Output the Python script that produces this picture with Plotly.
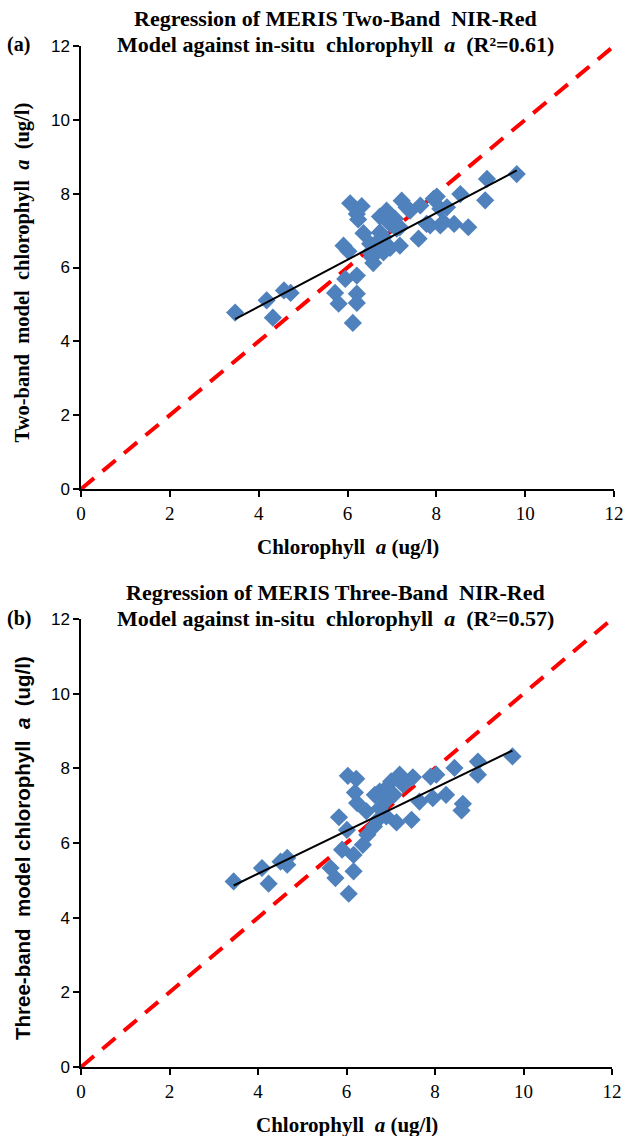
import numpy as np
import plotly.graph_objects as go

# ---------------- data ----------------
insitu_a = [3.47, 4.18, 4.32, 4.57, 4.72, 5.72, 5.80, 6.12, 6.21, 6.21, 5.95, 6.21, 5.91, 6.02,
            6.06, 6.32, 6.21, 6.24, 6.36, 6.51, 6.51, 6.55, 6.58, 6.66, 6.73, 6.73, 6.81, 6.81,
            6.88, 6.96, 6.96, 7.07, 7.11, 7.18, 7.18, 7.22, 7.33, 7.41, 7.60, 7.64, 7.78, 7.86,
            7.94, 8.01, 8.09, 8.09, 8.16, 8.24, 8.40, 8.54, 8.72, 9.10, 9.14, 9.81]
model_a = [4.78, 5.11, 4.64, 5.38, 5.31, 5.31, 5.02, 4.50, 5.29, 5.04, 5.69, 5.78, 6.59, 6.44,
           7.74, 7.66, 7.45, 7.30, 6.93, 6.64, 6.41, 6.28, 6.12, 6.68, 7.38, 6.95, 6.82, 6.41,
           7.54, 7.18, 6.53, 7.32, 7.05, 7.09, 6.59, 7.81, 7.63, 7.54, 6.78, 7.68, 7.18, 7.14,
           7.86, 7.92, 7.59, 7.14, 7.23, 7.63, 7.18, 7.99, 7.09, 7.82, 8.40, 8.53]

insitu_b = [3.45, 4.09, 4.24, 4.51, 4.66, 4.66, 5.64, 5.75, 6.05, 6.16, 6.16, 5.90, 6.01, 5.83,
            6.24, 6.03, 6.22, 6.19, 6.37, 6.45, 6.47, 6.62, 6.71, 6.64, 6.75, 6.75, 6.90, 6.92,
            6.90, 7.01, 7.07, 7.20, 7.28, 7.13, 7.47, 7.50, 7.65, 7.90, 7.95, 8.03, 8.25, 8.44,
            8.63, 8.60, 8.97, 8.97, 9.75]
model_b = [4.97, 5.33, 4.91, 5.50, 5.60, 5.42, 5.33, 5.06, 4.64, 5.68, 5.24, 5.82, 6.35, 6.69,
           7.07, 7.80, 7.72, 7.35, 5.95, 6.85, 6.22, 6.44, 6.62, 7.29, 7.38, 6.94, 7.47, 7.16,
           6.71, 7.65, 7.29, 7.83, 7.56, 6.55, 6.62, 7.76, 7.11, 7.78, 7.20, 7.83, 7.29, 8.01,
           7.05, 6.87, 8.18, 7.83, 8.32]

one_to_one = [0, 12]
tick_vals = [0, 2, 4, 6, 8, 10, 12]
tick_text = ["0", "2", "4", "6", "8", "10", "12"]

title_lines = [
    ["Regression of MERIS Two-Band  NIR-Red",
     "Model against in-situ  chlorophyll  <i>a</i>  (R²=0.61)"],
    ["Regression of MERIS Three-Band  NIR-Red",
     "Model against in-situ  chlorophyll  <i>a</i>  (R²=0.57)"],
]
panel_labels = ["(a)", "(b)"]
y_titles = ["Two-band  model  chlorophyll  <i>a</i>  (ug/l)",
            "Three-band  model chlorophyll  <i>a</i>  (ug/l)"]
x_title = "Chlorophyll  <i>a</i> (ug/l)"

# ---------------- layout geometry ----------------
W, H = 632, 1136
SERIF = "Liberation Serif, Times New Roman, serif"
SANS = "Liberation Sans, Arial, sans-serif"
BLUE = "#4F81BD"

panels = [
    dict(xs=insitu_a, ys=model_a, left=81, right=614, top=46, bottom=489, ax="", yfont=SERIF),
    dict(xs=insitu_b, ys=model_b, left=81, right=612, top=619, bottom=1067, ax="2", yfont=SANS),
]

fig = go.Figure()
layout = dict(width=W, height=H, margin=dict(l=0, r=0, t=0, b=0, autoexpand=False),
              paper_bgcolor="white", plot_bgcolor="white", showlegend=False,
              annotations=[])

def px(v):
    return v / W

def py(v):
    return 1 - v / H

for i, p in enumerate(panels):
    xa = "x" + p["ax"]
    ya = "y" + p["ax"]
    # 1:1 line
    fig.add_trace(go.Scatter(x=one_to_one, y=one_to_one, mode="lines", xaxis=xa, yaxis=ya,
                             line=dict(color="#FF0000", width=4, dash="17px,11px"),
                             hoverinfo="skip", cliponaxis=False))
    # scatter
    fig.add_trace(go.Scatter(x=p["xs"], y=p["ys"], mode="markers", xaxis=xa, yaxis=ya,
                             marker=dict(symbol="diamond", size=14, color=BLUE,
                                         line=dict(width=0))))
    # linear regression trendline
    xs = np.array(p["xs"])
    ys = np.array(p["ys"])
    k, b = np.polyfit(xs, ys, 1)
    xl = np.array([xs.min(), xs.max()])
    fig.add_trace(go.Scatter(x=xl, y=k * xl + b, mode="lines", xaxis=xa, yaxis=ya,
                             line=dict(color="black", width=2), hoverinfo="skip"))

    xkey = "xaxis" + p["ax"]
    ykey = "yaxis" + p["ax"]
    layout[xkey] = dict(domain=[px(p["left"]), px(p["right"])], range=[0, 12],
                        anchor=ya, showline=True, linecolor="black", linewidth=1.5,
                        ticks="outside", ticklen=6, tickwidth=1.5, tickcolor="black",
                        tickvals=tick_vals, ticktext=tick_text, showgrid=False,
                        automargin=False, fixedrange=True,
                        zeroline=False, tickfont=dict(family=SERIF, size=19, color="black"))
    layout[ykey] = dict(domain=[py(p["bottom"]), py(p["top"])], range=[0, 12],
                        anchor=xa, showline=True, linecolor="black", linewidth=1.5,
                        ticks="outside", ticklen=6, tickwidth=1.5, tickcolor="black",
                        tickvals=tick_vals, ticktext=tick_text, showgrid=False,
                        automargin=False, fixedrange=True,
                        zeroline=False, tickfont=dict(family=SANS, size=17, color="black"))
    cx = (p["left"] + p["right"]) / 2
    # chart title (two lines, placed separately for tight line spacing)
    for j, line in enumerate(title_lines[i]):
        layout["annotations"].append(dict(
            text="<b>" + line + "</b>", x=px(336), y=py(p["top"] - 27 + 26 * j),
            xref="paper", yref="paper", xanchor="center", yanchor="middle",
            showarrow=False, align="center",
            font=dict(family=SERIF, size=22, color="black")))
    # panel label
    layout["annotations"].append(dict(
        text="<b>" + panel_labels[i] + "</b>", x=px(5), y=py(p["top"] - 1), xref="paper", yref="paper",
        xanchor="left", yanchor="middle", showarrow=False,
        font=dict(family=SERIF, size=20, color="black")))
    # x-axis title
    layout["annotations"].append(dict(
        text="<b>" + x_title + "</b>", x=px(cx), y=py(p["bottom"] + 58), xref="paper", yref="paper",
        xanchor="center", yanchor="middle", showarrow=False,
        font=dict(family=SERIF, size=21, color="black")))
    # y-axis title
    layout["annotations"].append(dict(
        text="<b>" + y_titles[i] + "</b>", x=px(22), y=py((p["top"] + p["bottom"]) / 2 + 5), xref="paper",
        yref="paper", xanchor="center", yanchor="middle", showarrow=False, textangle=-90,
        font=dict(family=p["yfont"], size=20.5, color="black")))

fig.update_layout(**layout)
fig.write_html("out.html", config={"displayModeBar": False},
               post_script="document.body.style.margin='0px';")
